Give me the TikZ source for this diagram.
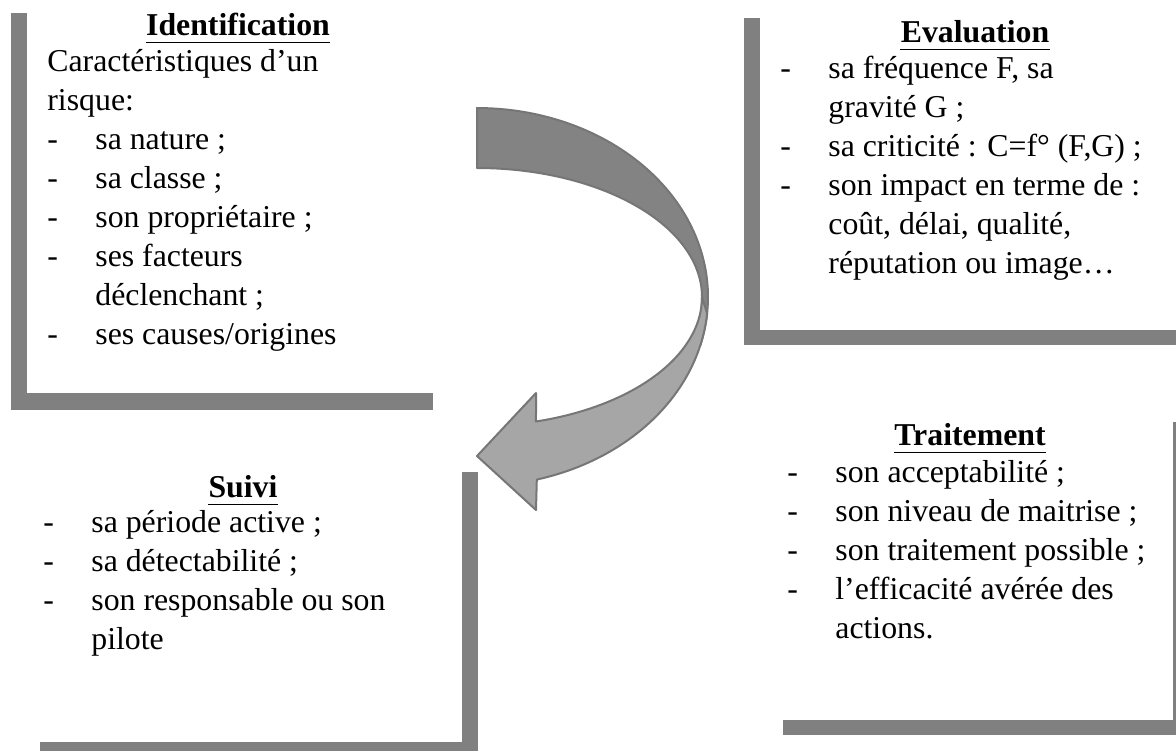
\documentclass[tikz,border=0pt]{standalone}
\usepackage{fontspec}
\setmainfont{Liberation Serif}
\usepackage{array}

\definecolor{bargray}{HTML}{808080}
\definecolor{backgray}{HTML}{838383}
\definecolor{frontgray}{HTML}{A6A6A6}
\definecolor{edgegray}{HTML}{767676}

\tikzset{
  bar/.style={fill=bargray, draw=none},
  boxtitle/.style={anchor=base, inner sep=0pt, font=\fontsize{15.9}{19.5}\selectfont\bfseries},
  boxbody/.style={anchor=base west, inner sep=0pt, font=\fontsize{15.9}{19.5}\selectfont},
  titlerule/.style={line width=0.85pt},
  ribbon/.style={draw=edgegray, line width=1pt, line join=round},
}

% item list: a dash, then the text indented
\newenvironment{dashlist}{\begin{tabular}[t]{@{}p{24pt}@{}l@{}}}{\end{tabular}}
\newcommand{\wide}[1]{\multicolumn{2}{@{}l@{}}{#1}}

\begin{document}
\begin{tikzpicture}[x=0.5pt, y=-0.5pt]
\useasboundingbox (0,0) rectangle (1176,751);

% ---- frame bars ----
\fill[bar] (11,13) rectangle (27,410);
\fill[bar] (11,393) rectangle (433,410);
\fill[bar] (744,18) rectangle (760,345);
\fill[bar] (744,330) rectangle (1176,345);
\fill[bar] (462,472) rectangle (478,751);
\fill[bar] (40,742) rectangle (478,751);
\fill[bar] (1173,422) rectangle (1176,735);
\fill[bar] (783,720) rectangle (1176,735);

% ---- twisted curved arrow ----
% back face (upper half of the loop)
\path[ribbon, fill=backgray]
  plot[domain=-90:15, samples=60, variable=\t] ({477+231*cos(\t)},{297+189*sin(\t)})
  -- (702,297)
  -- plot[domain=0:-90, samples=60, variable=\t] ({477+225*cos(\t)},{297+129*sin(\t)})
  -- cycle;
% front face with the arrow head
\path[ribbon, fill=frontgray]
  plot[domain=0:74.8, samples=60, variable=\t] ({477+225*cos(\t)},{297+129*sin(\t)})
  -- (536,393) -- (477,456) -- (536,510) -- (536.8,479.6)
  -- plot[domain=75:5, samples=60, variable=\t] ({477+231*cos(\t)},{297+189*sin(\t)})
  -- cycle;

% ---- Identification ----
\node[boxtitle] (tid) at (238,35) {Identification};
\draw[titlerule] ([yshift=-3.75pt]tid.base west) -- ([yshift=-3.75pt]tid.base east);
\node[boxbody] (bid) at (47,71.7) {\begin{dashlist}
\wide{Caractéristiques d’un}\\
\wide{risque:}\\
-& sa nature ;\\
-& sa classe ;\\
-& son propriétaire ;\\
-& ses facteurs\\
 & déclenchant ;\\
-& ses causes/origines
\end{dashlist}};

% ---- Evaluation ----
\node[boxtitle] (tev) at (975,42) {Evaluation};
\draw[titlerule] ([yshift=-3.75pt]tev.base west) -- ([yshift=-3.75pt]tev.base east);
\node[boxbody] (bev) at (780,78) {\begin{dashlist}
-& sa fréquence F, sa\\
 & gravité G ;\\
-& sa criticité : C=f° (F,G) ;\\
-& son impact en terme de :\\
 & coût, délai, qualité,\\
 & réputation ou image…
\end{dashlist}};

% ---- Suivi ----
\node[boxtitle] (tsu) at (243,497) {Suivi};
\draw[titlerule] ([yshift=-3.75pt]tsu.base west) -- ([yshift=-3.75pt]tsu.base east);
\node[boxbody] (bsu) at (43,532) {\begin{dashlist}
-& sa période active ;\\
-& sa détectabilité ;\\
-& son responsable ou son\\
 & pilote
\end{dashlist}};

% ---- Traitement ----
\node[boxtitle] (ttr) at (970,445) {Traitement};
\draw[titlerule] ([yshift=-3.75pt]ttr.base west) -- ([yshift=-3.75pt]ttr.base east);
\node[boxbody] (btr) at (787,482) {\begin{dashlist}
-& son acceptabilité ;\\
-& son niveau de maitrise ;\\
-& son traitement possible ;\\
-& l’efficacité avérée des\\
 & actions.
\end{dashlist}};

\end{tikzpicture}
\end{document}
